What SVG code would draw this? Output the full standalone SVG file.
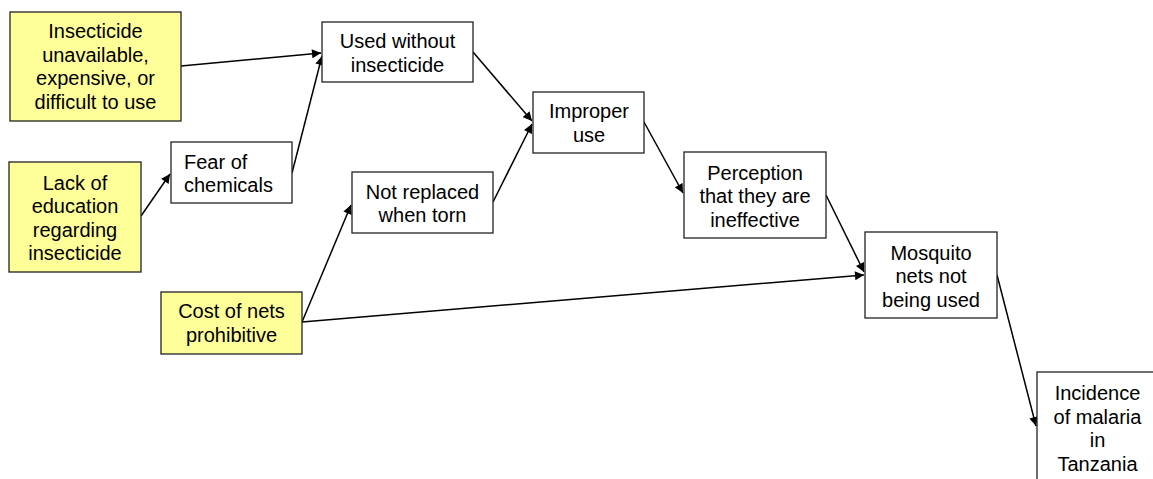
<svg xmlns="http://www.w3.org/2000/svg" width="1153" height="479" viewBox="0 0 1153 479">
  <style>
    .box { fill: #ffffff; stroke: #222222; stroke-width: 1.3; }
    .cause { fill: #ffff99; }
    .label { font-family: "Liberation Sans", Arial, sans-serif; font-size: 20px; fill: #000000; text-anchor: middle; }
    .left { text-anchor: start; }
    .link { stroke: #000000; stroke-width: 1.5; fill: none; marker-end: url(#arrow); }
  </style>
  <defs>
    <marker id="arrow" viewBox="0 0 10 10" refX="10" refY="5" markerWidth="6.5" markerHeight="6" markerUnits="strokeWidth" orient="auto">
      <path d="M0,0 L10,5 L0,10 z" fill="#000000"/>
    </marker>
  </defs>
  <rect width="1153" height="479" fill="#ffffff"/>

  <g id="connectors">
    <line class="link" x1="181" y1="66" x2="321" y2="53"/>
    <line class="link" x1="292" y1="173" x2="322" y2="56"/>
    <line class="link" x1="141" y1="216" x2="170" y2="174"/>
    <line class="link" x1="473" y1="52" x2="532" y2="121"/>
    <line class="link" x1="493" y1="202" x2="532" y2="124"/>
    <line class="link" x1="302" y1="322" x2="351" y2="205"/>
    <line class="link" x1="302" y1="322" x2="864" y2="275"/>
    <line class="link" x1="644" y1="122" x2="683" y2="193"/>
    <line class="link" x1="826" y1="195" x2="864" y2="272"/>
    <line class="link" x1="997" y1="275" x2="1036" y2="426"/>
  </g>

  <g id="insecticide-unavailable">
    <rect class="box cause" x="10" y="12" width="171" height="109"/>
    <text class="label" x="95.5" y="38">Insecticide</text>
    <text class="label" x="95.5" y="61.5">unavailable,</text>
    <text class="label" x="95.5" y="85">expensive, or</text>
    <text class="label" x="95.5" y="108.5">difficult to use</text>
  </g>

  <g id="lack-of-education">
    <rect class="box cause" x="9" y="162" width="132" height="110"/>
    <text class="label" x="75" y="190">Lack of</text>
    <text class="label" x="75" y="213">education</text>
    <text class="label" x="75" y="236.5">regarding</text>
    <text class="label" x="75" y="260">insecticide</text>
  </g>

  <g id="fear-of-chemicals">
    <rect class="box" x="171" y="142" width="121" height="61"/>
    <text class="label left" x="184" y="169">Fear of</text>
    <text class="label left" x="184" y="192">chemicals</text>
  </g>

  <g id="used-without-insecticide">
    <rect class="box" x="322" y="22" width="151" height="60"/>
    <text class="label" x="397.5" y="48">Used without</text>
    <text class="label" x="397.5" y="71.5">insecticide</text>
  </g>

  <g id="not-replaced">
    <rect class="box" x="352" y="172" width="141" height="61"/>
    <text class="label" x="422.5" y="199">Not replaced</text>
    <text class="label" x="422.5" y="222">when torn</text>
  </g>

  <g id="cost-of-nets">
    <rect class="box cause" x="161" y="292" width="141" height="62"/>
    <text class="label" x="231.5" y="318">Cost of nets</text>
    <text class="label" x="231.5" y="341.5">prohibitive</text>
  </g>

  <g id="improper-use">
    <rect class="box" x="533" y="92" width="111" height="61"/>
    <text class="label" x="589" y="118">Improper</text>
    <text class="label" x="589" y="141.5">use</text>
  </g>

  <g id="perception-ineffective">
    <rect class="box" x="684" y="152" width="142" height="86"/>
    <text class="label" x="755" y="180">Perception</text>
    <text class="label" x="755" y="203">that they are</text>
    <text class="label" x="755" y="226.5">ineffective</text>
  </g>

  <g id="nets-not-used">
    <rect class="box" x="865" y="232" width="132" height="86"/>
    <text class="label" x="931" y="259.5">Mosquito</text>
    <text class="label" x="931" y="283">nets not</text>
    <text class="label" x="931" y="306.5">being used</text>
  </g>

  <g id="malaria-incidence">
    <rect class="box" x="1037" y="372" width="121" height="120"/>
    <text class="label" x="1097.5" y="400">Incidence</text>
    <text class="label" x="1097.5" y="423.5">of malaria</text>
    <text class="label" x="1097.5" y="447">in</text>
    <text class="label" x="1097.5" y="470.5">Tanzania</text>
  </g>
</svg>
